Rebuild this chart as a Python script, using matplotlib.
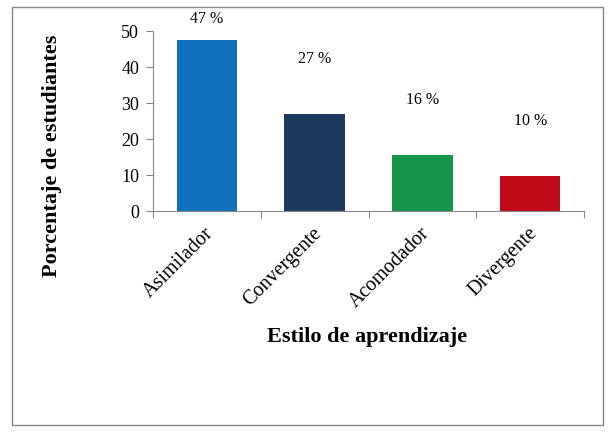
import matplotlib
matplotlib.use("Agg")
import matplotlib.pyplot as plt
from matplotlib.patches import Rectangle

categories = ["Asimilador", "Convergente", "Acomodador", "Divergente"]
values = [47.5, 27, 15.6, 9.7]
labels = ["47 %", "27 %", "16 %", "10 %"]
colors = ["#1170BC", "#1B3A5E", "#17954A", "#C00A17"]
yticks = [0, 10, 20, 30, 40, 50]

plt.rcParams['font.family'] = ['Liberation Serif', 'DejaVu Serif']

fig = plt.figure(figsize=(6.12, 4.32), dpi=100)
ax = fig.add_axes([153/612, 1-211/432, (584-153)/612, 180/432])

x = list(range(len(categories)))
ax.bar(x, values, width=0.56, color=colors)
ax.set_xlim(-0.5, len(categories)-0.5)
ax.set_ylim(0, 50)
ax.set_yticks(yticks)
ax.set_yticklabels([str(t) for t in yticks], fontsize=13)

# label positions: fixed offset above bars, first one capped at top
for i, (v, lab) in enumerate(zip(values, labels)):
    ly = min(v + 15.2, 53.3)
    ax.text(i, ly, lab, ha='center', va='center', fontsize=11.5, clip_on=False)

ax.set_xticks([i - 0.5 for i in range(len(categories)+1)])
ax.set_xticklabels([])
ax.tick_params(axis='x', length=5, color='#888888', direction='out')
ax.tick_params(axis='y', length=5, color='#888888', direction='out', pad=5)
for i, c in enumerate(categories):
    ax.text(i + 0.04, -5.5, c, rotation=45, rotation_mode='anchor', ha='right', va='center',
            fontsize=14.5, transform=ax.transData, clip_on=False)

for s in ['top', 'right']:
    ax.spines[s].set_visible(False)
for s in ['left', 'bottom']:
    ax.spines[s].set_color('#888888')

fig.text(52/612, 1-156/432, "Porcentaje de estudiantes", rotation=90, ha='center', va='center',
         fontsize=16, fontweight='bold')
fig.text(367/612, 1-337/432, "Estilo de aprendizaje", ha='center', va='center',
         fontsize=16, fontweight='bold')

fig.patches.append(Rectangle((12/612, 1-425/432), (603-12)/612, (425-7)/432,
                             transform=fig.transFigure, fill=False, edgecolor='#888888', linewidth=1))

fig.savefig("out.png", dpi=100)
